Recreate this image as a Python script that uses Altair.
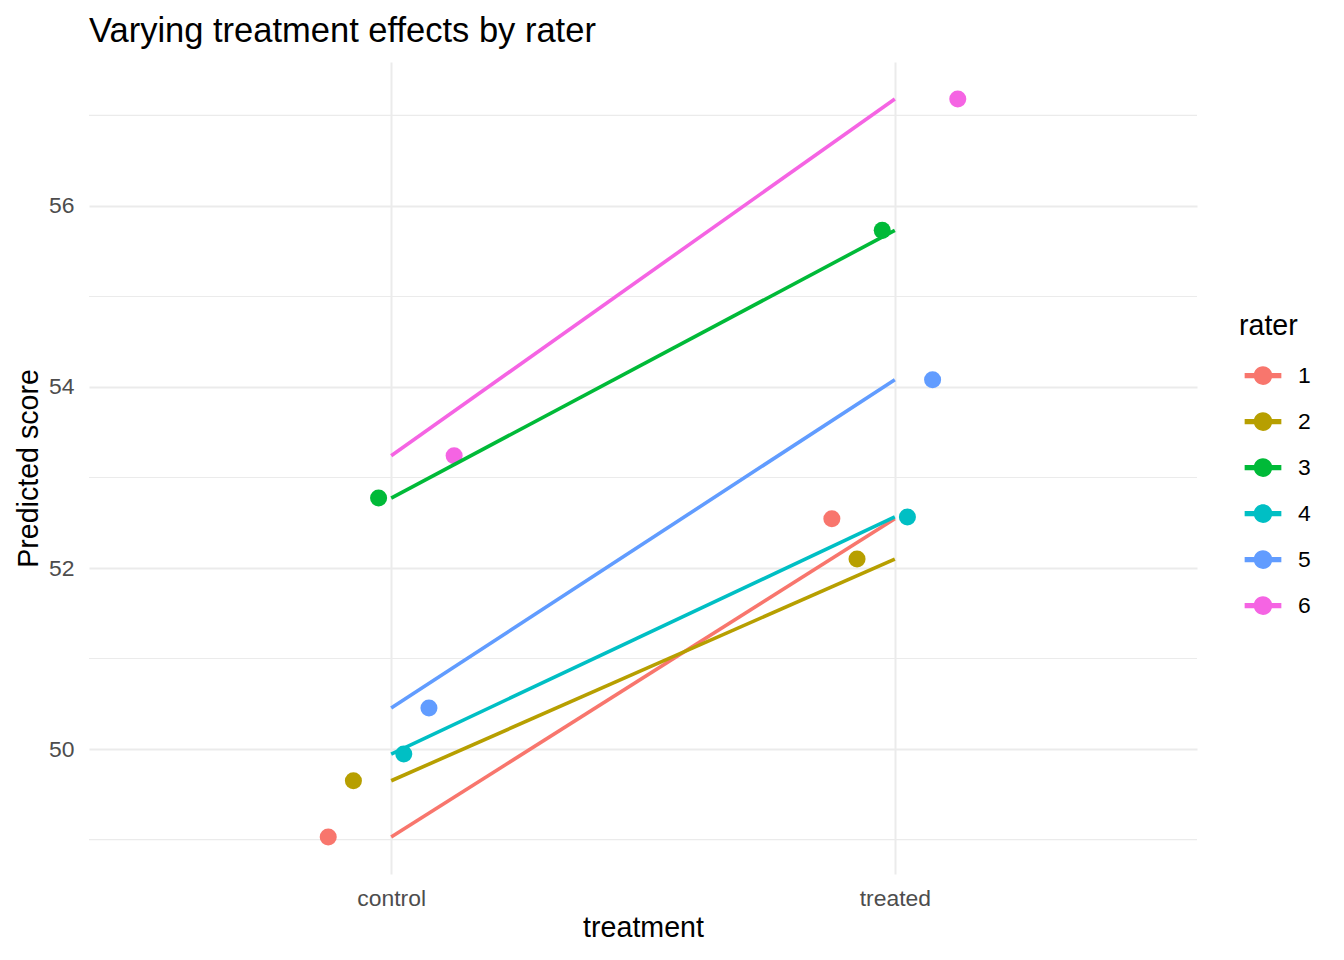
import altair as alt
import pandas as pd

# ---- data ----
raters = [1, 2, 3, 4, 5, 6]
treatments = ["control", "treated"]
control_scores = [49.028, 49.650, 52.773, 49.945, 50.453, 53.241]
treated_scores = [52.545, 52.099, 55.730, 52.564, 54.081, 57.182]
rater_colors = ["#F8766D", "#B79F00", "#00BA38", "#00BFC4", "#619CFF", "#F564E3"]
major_y = [50, 52, 54, 56]
minor_y = [49, 51, 53, 55, 57]

rows = []
for r, c, t in zip(raters, control_scores, treated_scores):
    rows.append({"rater": str(r), "rater_num": r, "treatment": treatments[0], "score": c})
    rows.append({"rater": str(r), "rater_num": r, "treatment": treatments[1], "score": t})
df = pd.DataFrame(rows)

FONT = "Liberation Sans"
GRID = "#EBEBEB"

xscale = alt.Scale(domain=[0.4, 2.6], nice=False, zero=False)
yscale = alt.Scale(domain=[48.62, 57.59], nice=False, zero=False)

legend_path = (
    "M-0.966,-0.14 H0.966 V0.14 H-0.966 Z "
    "M-0.49,0 A0.49,0.49 0 1,1 0.49,0 A0.49,0.49 0 1,1 -0.49,0 Z"
)

color = alt.Color(
    "rater:N",
    scale=alt.Scale(domain=[str(r) for r in raters], range=rater_colors),
    legend=alt.Legend(
        title="rater",
        orient="none",
        legendX=1150,
        legendY=250,
        padding=0,
        titleFontSize=28.6,
        titleFont=FONT,
        titleFontWeight="normal",
        titleColor="black",
        titlePadding=16,
        labelFontSize=22.9,
        labelFont=FONT,
        labelColor="black",
        labelOffset=16,
        symbolType=legend_path,
        symbolSize=1444,
        symbolStrokeWidth=0,
        symbolOpacity=1,
        symbolOffset=5,
        rowPadding=15,
    ),
)

xaxis = alt.Axis(
    values=[1, 2],
    labelExpr="datum.value == 1 ? 'control' : 'treated'",
    grid=True,
    gridColor=GRID,
    gridWidth=2,
    ticks=False,
    domain=False,
    labelFontSize=22.9,
    labelFont=FONT,
    labelColor="#4D4D4D",
    labelPadding=13,
    title="treatment",
    titleFontSize=28.6,
    titleFont=FONT,
    titleFontWeight="normal",
    titleColor="black",
    titlePadding=4,
)

yaxis = alt.Axis(
    values=major_y,
    grid=True,
    gridColor=GRID,
    gridWidth=2,
    ticks=False,
    domain=False,
    labelFontSize=22.9,
    labelFont=FONT,
    labelColor="#4D4D4D",
    labelPadding=15,
    title="Predicted score",
    titleFontSize=28.6,
    titleFont=FONT,
    titleFontWeight="normal",
    titleColor="black",
    titlePadding=5,
)

minor = (
    alt.Chart(pd.DataFrame({"y": minor_y}))
    .mark_rule(color=GRID, strokeWidth=1.1)
    .encode(y=alt.Y("y:Q", scale=yscale, axis=yaxis))
)

base = alt.Chart(df).transform_calculate(
    tpos="datum.treatment == 'control' ? 1 : 2",
    dodge="(datum.treatment == 'control' ? 1 : 2) + (datum.rater_num - 3.5) * 0.05",
)

points = base.mark_circle(size=290, opacity=1).encode(
    x=alt.X("dodge:Q", scale=xscale, axis=xaxis),
    y=alt.Y("score:Q", scale=yscale, axis=yaxis),
    color=color,
)

lines = base.mark_line(strokeWidth=3.6).encode(
    x=alt.X("tpos:Q", scale=xscale, axis=xaxis),
    y=alt.Y("score:Q", scale=yscale, axis=yaxis),
    color=color,
    detail="rater:N",
)

chart = (
    alt.layer(minor, points, lines)
    .properties(
        width=1108,
        height=812,
        autosize=alt.AutoSizeParams(type="none"),
        padding={"left": 81, "top": 54, "right": 130, "bottom": 70},
        title=alt.TitleParams(
            "Varying treatment effects by rater",
            anchor="start",
            frame="group",
            fontSize=34.5,
            font=FONT,
            fontWeight="normal",
            color="black",
            baseline="alphabetic",
            offset=20,
            dy=34,
        ),
        background="white",
    )
    .configure_view(stroke=None)
)

chart.save("out.html", embed_options={"renderer": "svg", "actions": False})
